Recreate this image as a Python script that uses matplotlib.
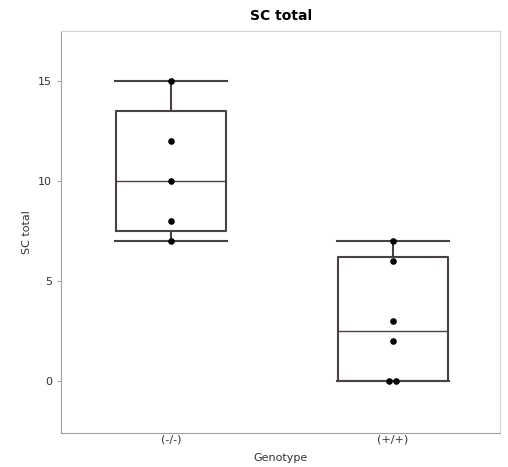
import numpy as np
import matplotlib.pyplot as plt

# valeurs
genotypes = ["(-/-)", "(+/+)"]
points_ko = [15, 12, 10, 8, 7]
points_wt = [7, 6, 3, 2, 0, 0]
q1 = [7.5, 0.0]
mediane = [10.0, 2.5]
q3 = [13.5, 6.2]
whis_bas = [7.0, 0.0]
whis_haut = [15.0, 7.0]

couleur_box = "#4d4040"
couleur_axe = "#a89c9c"

fig = plt.figure(figsize=(5.08, 4.67), dpi=100)
ax = fig.add_axes([0.12, 0.073, 0.865, 0.86])

stats = []
for i in range(len(genotypes)):
    stats.append({
        "med": mediane[i], "q1": q1[i], "q3": q3[i],
        "whislo": whis_bas[i], "whishi": whis_haut[i], "fliers": [],
    })

ax.bxp(
    stats, positions=[1, 2.01], widths=0.5, capwidths=0.51,
    showfliers=False,
    boxprops=dict(color=couleur_box, linewidth=1.5),
    whiskerprops=dict(color=couleur_box, linewidth=1.5),
    capprops=dict(color=couleur_box, linewidth=1.5),
    medianprops=dict(color=couleur_box, linewidth=1.0),
)

# points individuels (décalage léger pour les doublons)
for pos, pts in zip([1, 2.01], [points_ko, points_wt]):
    vals = np.array(pts, dtype=float)
    xs = np.full(len(vals), float(pos))
    for v in np.unique(vals):
        idx = np.where(vals == v)[0]
        if len(idx) > 1:
            xs[idx] = pos + (np.arange(len(idx)) - (len(idx) - 1) / 2) * 0.03
    ax.scatter(xs, vals, s=14, color="black", zorder=5)

ax.set_xlim(0.5, 2.5)
ax.set_ylim(-2.6, 17.5)
ax.set_xticks([1, 2.01])
ax.set_xticklabels(genotypes, fontsize=8, color="#333333")
ax.set_yticks([0, 5, 10, 15])
ax.tick_params(axis="y", labelsize=8, colors="#333333", length=3, color=couleur_axe)
ax.tick_params(axis="x", length=0, pad=1)
for sp in ax.spines.values():
    sp.set_color("#d8d0d0")
ax.spines["left"].set_color(couleur_axe)
ax.spines["bottom"].set_color(couleur_axe)

ax.set_title("SC total", fontsize=10, fontweight="bold", pad=8)
ax.set_ylabel("SC total", fontsize=8, color="#333333")
ax.set_xlabel("Genotype", fontsize=8, color="#333333", labelpad=6)

fig.savefig("out.png", dpi=100)
